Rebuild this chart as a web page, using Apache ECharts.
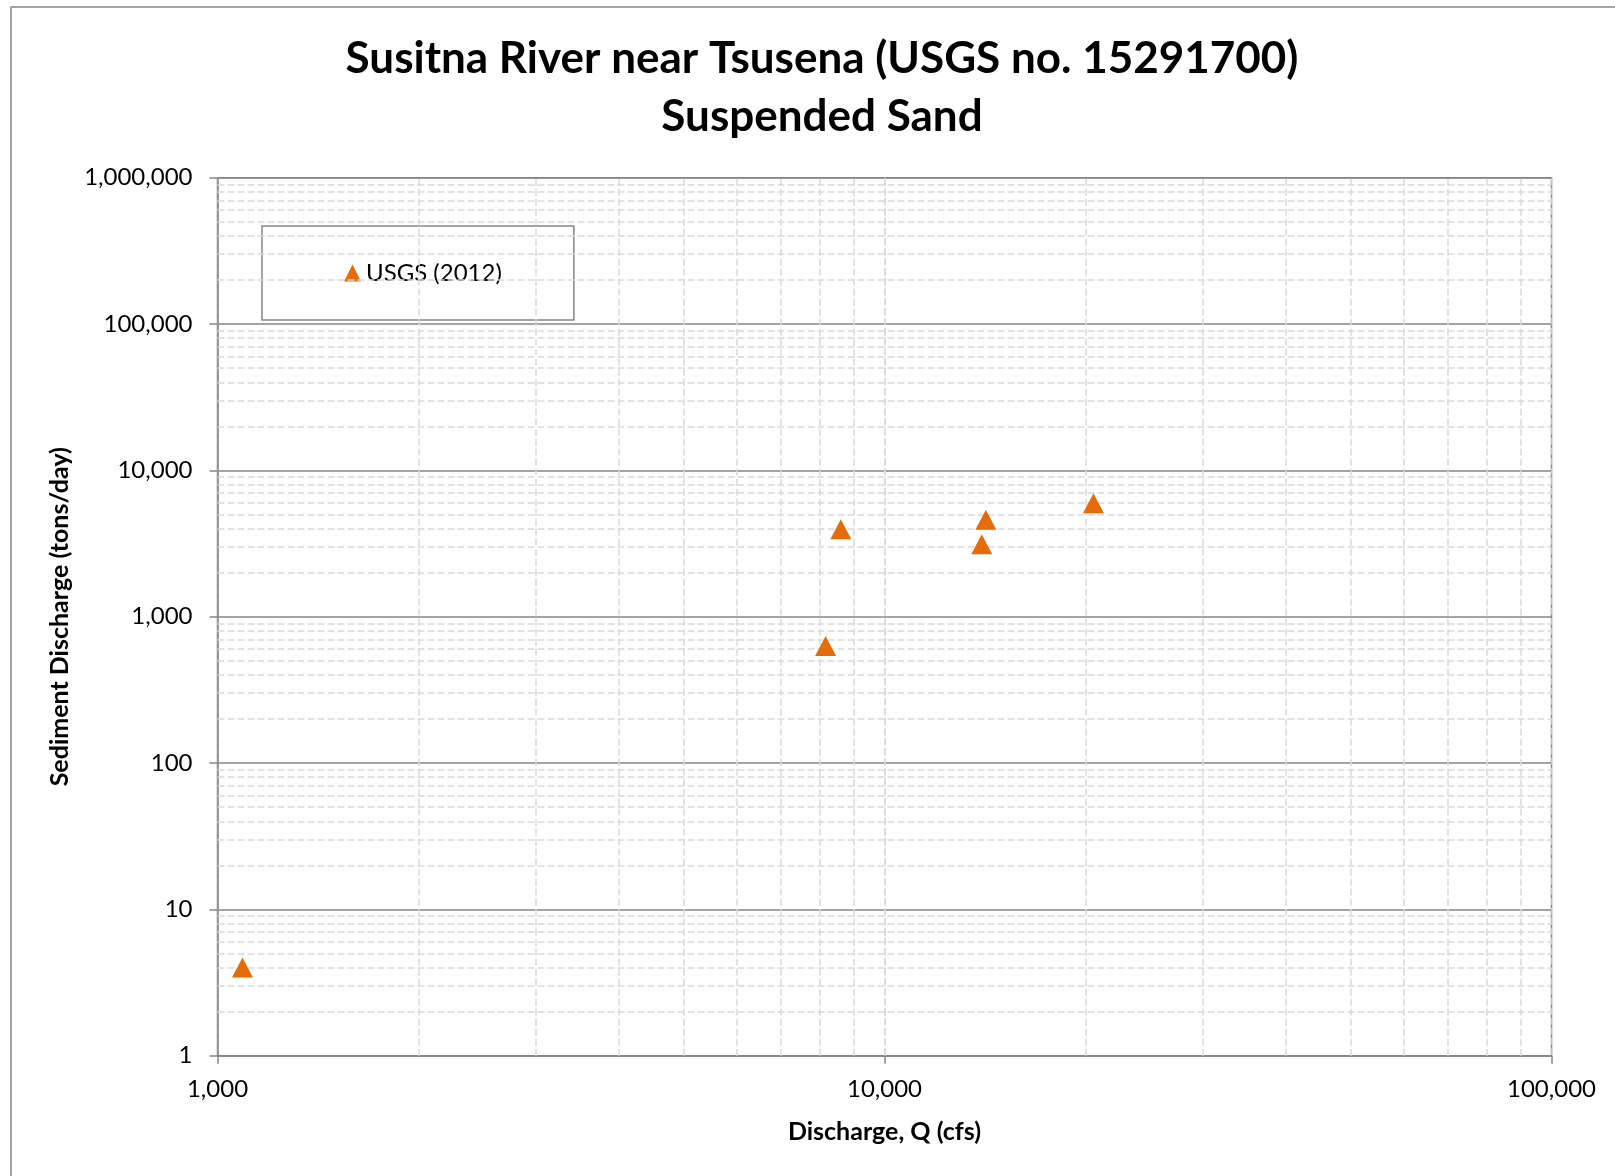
<!DOCTYPE html>
<html>
<head>
<meta charset="utf-8">
<title>Susitna River near Tsusena - Suspended Sand</title>
<script src="https://cdn.jsdelivr.net/npm/echarts@6/dist/echarts.min.js"></script>
<style>
  html, body { margin: 0; padding: 0; background: #ffffff; }
  #chart { width: 1615px; height: 1176px; }
</style>
</head>
<body>
<div id="chart"></div>
<script>
// Measured samples: water discharge Q (cfs) and suspended-sand discharge (tons/day)
const discharge = [1090, 8160, 8600, 13990, 14190, 20570];
const sandLoad  = [4.0, 630, 3960, 3130, 4590, 5970];
const seriesName = 'USGS (2012)';

// Decade tick labels
const xTickLabels = ['1,000', '10,000', '100,000'];
const yTickLabels = ['1', '10', '100', '1,000', '10,000', '100,000', '1,000,000'];

// Minor (2..9 per decade) gridline values
const xMinorValues = [2000, 3000, 4000, 5000, 6000, 7000, 8000, 9000, 10000,
                      20000, 30000, 40000, 50000, 60000, 70000, 80000, 90000];
const yMinorValues = [2, 3, 4, 5, 6, 7, 8, 9,
                      20, 30, 40, 50, 60, 70, 80, 90,
                      200, 300, 400, 500, 600, 700, 800, 900,
                      2000, 3000, 4000, 5000, 6000, 7000, 8000, 9000,
                      20000, 30000, 40000, 50000, 60000, 70000, 80000, 90000,
                      200000, 300000, 400000, 500000, 600000, 700000, 800000, 900000];

const FONT = 'Lato, "Open Sans", sans-serif';
const AXIS_GREY = '#868686';
const GRID_GREY = '#d9d9d9';
const MARKER_ORANGE = '#E46C0A';

const points = discharge.map((q, i) => [q, sandLoad[i]]);
const minorLines = xMinorValues.map(v => ({ xAxis: v }))
  .concat(yMinorValues.map(v => ({ yAxis: v })));

const chart = echarts.init(document.getElementById('chart'), null, { renderer: 'canvas' });

chart.setOption({
  backgroundColor: '#ffffff',
  animation: false,
  graphic: [{
    type: 'rect',
    shape: { x: 11, y: 7, width: 1700, height: 1300 },
    style: { fill: 'none', stroke: AXIS_GREY, lineWidth: 1.5 },
    silent: true,
    z: -1
  }],
  title: {
    text: 'Susitna River near Tsusena (USGS no. 15291700)\nSuspended Sand',
    left: 817,
    textAlign: 'center',
    top: 25,
    textStyle: {
      fontFamily: FONT,
      fontSize: 44,
      fontWeight: 'bold',
      color: '#000000',
      lineHeight: 58
    }
  },
  legend: {
    data: [seriesName],
    left: 262,
    top: 226,
    orient: 'vertical',
    backgroundColor: '#ffffff',
    borderColor: AXIS_GREY,
    borderWidth: 1.5,
    padding: [35, 72, 35, 82],
    icon: 'triangle',
    itemWidth: 17,
    itemHeight: 17,
    itemGap: 6,
    itemStyle: { color: MARKER_ORANGE, opacity: 1 },
    textStyle: { fontFamily: FONT, fontSize: 24, color: '#000000' }
  },
  grid: {
    left: 217.5,
    right: 63.5,
    top: 177.7,
    bottom: 120.3,
    show: true,
    borderColor: AXIS_GREY,
    borderWidth: 1.5,
    containLabel: false
  },
  xAxis: {
    type: 'log',
    logBase: 10,
    min: 1000,
    max: 100000,
    splitNumber: 2,
    name: 'Discharge, Q (cfs)',
    nameLocation: 'middle',
    nameGap: 64,
    nameTextStyle: { fontFamily: FONT, fontSize: 25, fontWeight: 'bold', color: '#000000' },
    axisLine: { show: true, lineStyle: { color: AXIS_GREY, width: 1.5 } },
    axisTick: { show: true, inside: false, length: 8, lineStyle: { color: AXIS_GREY, width: 1.5 } },
    axisLabel: {
      margin: 22,
      fontFamily: FONT,
      fontSize: 24,
      color: '#000000',
      formatter: v => xTickLabels[Math.round(Math.log10(v)) - 3]
    },
    splitLine: { show: true, lineStyle: { color: GRID_GREY, width: 1.5, type: [7, 3] } },
    minorTick: { show: false },
    minorSplitLine: { show: false }
  },
  yAxis: {
    type: 'log',
    logBase: 10,
    min: 1,
    max: 1000000,
    splitNumber: 6,
    name: 'Sediment Discharge (tons/day)',
    nameLocation: 'middle',
    nameGap: 145,
    nameRotate: 90,
    nameTextStyle: { fontFamily: FONT, fontSize: 25, fontWeight: 'bold', color: '#000000' },
    axisLine: { show: true, lineStyle: { color: AXIS_GREY, width: 1.5 } },
    axisTick: { show: true, inside: false, length: 8, lineStyle: { color: AXIS_GREY, width: 1.5 } },
    axisLabel: {
      margin: 25,
      fontFamily: FONT,
      fontSize: 24,
      color: '#000000',
      formatter: v => yTickLabels[Math.round(Math.log10(v))]
    },
    splitLine: { show: true, lineStyle: { color: AXIS_GREY, width: 1.5, type: 'solid' } },
    minorTick: { show: false },
    minorSplitLine: { show: false }
  },
  series: [
    {
      // Dashed minor gridlines at 2..9 of each decade
      name: 'minor-grid',
      type: 'scatter',
      data: [],
      silent: true,
      z: 1,
      markLine: {
        silent: true,
        symbol: ['none', 'none'],
        label: { show: false },
        emphasis: { disabled: true },
        animation: false,
        lineStyle: { color: GRID_GREY, width: 1.5, type: [7, 3] },
        data: minorLines
      }
    },
    {
      name: seriesName,
      type: 'scatter',
      data: points,
      symbol: 'triangle',
      symbolSize: [21, 20],
      itemStyle: { color: MARKER_ORANGE, opacity: 1 },
      z: 5
    }
  ]
});
</script>
</body>
</html>
